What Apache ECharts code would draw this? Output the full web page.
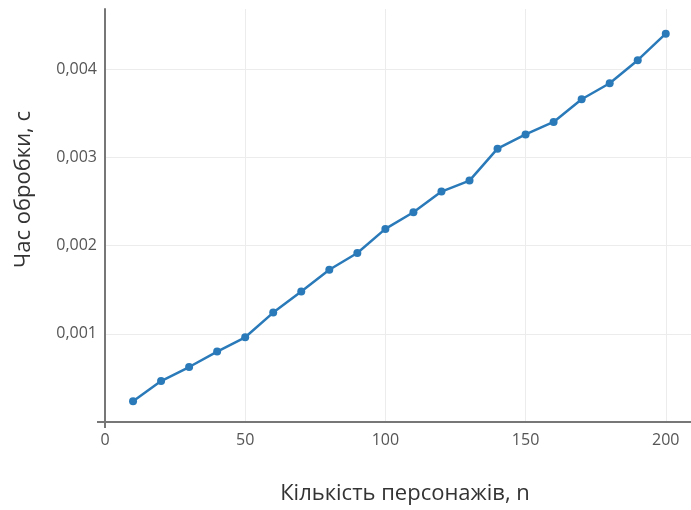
<!DOCTYPE html>
<html>
<head>
<meta charset="utf-8">
<script src="https://cdn.jsdelivr.net/npm/echarts@6/dist/echarts.min.js"></script>
<style>
  html, body { margin: 0; padding: 0; background: #fff; }
  #chart { width: 691px; height: 510px; }
</style>
</head>
<body>
<div id="chart"></div>
<script>
// кількість персонажів n
var counts = [10, 20, 30, 40, 50, 60, 70, 80, 90, 100,
              110, 120, 130, 140, 150, 160, 170, 180, 190, 200];
// час обробки, с
var times = [0.000236, 0.000464, 0.000623, 0.000798, 0.00096, 0.00124, 0.00148, 0.001725, 0.001915, 0.002188,
             0.002377, 0.002611, 0.002736, 0.003097, 0.003259, 0.0034, 0.003657, 0.003839, 0.0041, 0.0044];
var xTicks = [0, 50, 100, 150, 200];
var yTicks = [0.001, 0.002, 0.003, 0.004];

var myChart = echarts.init(document.getElementById('chart'));
var font = '"Open Sans", "Noto Sans", sans-serif';
var axisColor = '#777';
var gridColor = '#ececec';
var none = 'rgba(0,0,0,0)';

// helper axes that only draw the small tick at the origin
var originX = {
    type: 'value', min: 0, max: 209, position: 'bottom',
    axisLine: { show: false },
    axisTick: { show: true, length: 6, customValues: [0], lineStyle: { color: axisColor, width: 2 } },
    axisLabel: { show: false },
    splitLine: { show: false }
};
var originY = {
    type: 'value', min: 0, max: 0.00468, position: 'left',
    axisLine: { show: false },
    axisTick: { show: true, length: 8, customValues: [0], lineStyle: { color: axisColor, width: 2 } },
    axisLabel: { show: false },
    splitLine: { show: false }
};

var option = {
    animation: false,
    grid: {
        left: 105,
        right: 0,
        top: 9,
        bottom: 88
    },
    xAxis: [{
        type: 'value',
        min: 0,
        max: 209,
        interval: 50,
        name: 'Кількість персонажів, n',
        nameLocation: 'middle',
        nameGap: 61,
        nameTextStyle: { color: '#333', fontSize: 22, fontFamily: font, padding: [0, 0, 0, 14] },
        axisLine: { lineStyle: { color: axisColor, width: 2 } },
        axisTick: { show: false },
        axisLabel: {
            color: '#555', fontSize: 16, fontFamily: font, margin: 10,
            customValues: xTicks
        },
        // last line sits on the 209 edge, keep it hidden
        splitLine: { show: true, lineStyle: { color: [gridColor, gridColor, gridColor, gridColor, gridColor, none] } }
    }, originX],
    yAxis: [{
        type: 'value',
        min: 0,
        max: 0.00468,
        interval: 0.001,
        name: 'Час обробки, с',
        nameLocation: 'middle',
        nameGap: 70,
        nameTextStyle: { color: '#333', fontSize: 22, fontFamily: font, padding: [0, 0, 0, 52] },
        axisLine: { show: true, lineStyle: { color: axisColor, width: 2 } },
        axisTick: { show: false },
        axisLabel: {
            color: '#555', fontSize: 16, fontFamily: font, margin: 8,
            customValues: yTicks,
            formatter: function (v) { return v.toFixed(3).replace('.', ','); }
        },
        // no line at the top edge
        splitLine: { show: true, lineStyle: { color: [gridColor, gridColor, gridColor, gridColor, gridColor, none] } }
    }, originY],
    series: [{
        type: 'line',
        data: counts.map(function (c, i) { return [c, times[i]]; }),
        symbol: 'circle',
        symbolSize: 8,
        lineStyle: { color: '#2a7ab9', width: 2.5 },
        itemStyle: { color: '#2a7ab9' }
    }]
};
myChart.setOption(option);
</script>
</body>
</html>
